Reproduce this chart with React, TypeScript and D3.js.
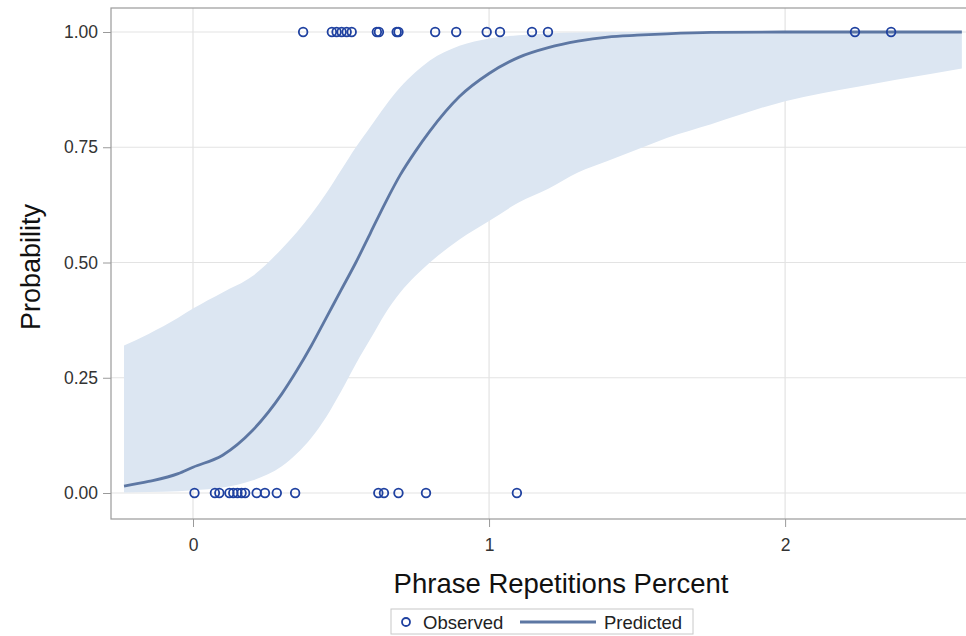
import React, { useEffect, useRef } from 'react';
import * as d3 from 'd3';

// observed responses (x = phrase repetitions percent)
const observedOne = [0.372, 0.469, 0.485, 0.502, 0.519, 0.536, 0.621, 0.628, 0.688, 0.694, 0.818, 0.889, 0.992, 1.037, 1.145, 1.199, 2.236, 2.358];
const observedZero = [0.005, 0.074, 0.089, 0.123, 0.136, 0.150, 0.164, 0.176, 0.215, 0.243, 0.283, 0.345, 0.626, 0.645, 0.694, 0.787, 1.094];

// predicted curve and confidence limits
const gridX = [-0.233, -0.15, -0.05, 0, 0.1, 0.2, 0.3, 0.35, 0.4, 0.45, 0.5, 0.55, 0.6, 0.65, 0.7, 0.75, 0.8, 0.9, 1.0, 1.1, 1.2, 1.3, 1.4, 1.5, 1.6, 1.75, 2.0, 2.25, 2.5, 2.597];
const predicted = [0.015, 0.025, 0.042, 0.056, 0.082, 0.135, 0.215, 0.265, 0.32, 0.38, 0.44, 0.5, 0.565, 0.63, 0.69, 0.74, 0.785, 0.86, 0.91, 0.945, 0.966, 0.98, 0.989, 0.993, 0.996, 0.999, 1, 1, 1, 1];
const upperCL = [0.32, 0.345, 0.38, 0.4, 0.435, 0.47, 0.53, 0.565, 0.605, 0.65, 0.7, 0.75, 0.795, 0.84, 0.88, 0.912, 0.938, 0.97, 0.986, 0.993, 0.997, 0.999, 1, 1, 1, 1, 1, 1, 1, 1];
const lowerCL = [0.001, 0.002, 0.004, 0.006, 0.012, 0.027, 0.058, 0.085, 0.12, 0.165, 0.22, 0.28, 0.335, 0.39, 0.435, 0.47, 0.5, 0.55, 0.59, 0.63, 0.66, 0.695, 0.72, 0.745, 0.77, 0.8, 0.85, 0.882, 0.91, 0.921];

const xTicks = [0, 1, 2];
const yTicks = [0, 0.25, 0.5, 0.75, 1];

const FONT = '"Liberation Sans", Arial, Helvetica, sans-serif';

const App = () => {
  const svgRef = useRef(null);

  useEffect(() => {
    const W = 966;
    const H = 636;
    // plot frame (right side runs off the picture)
    const frame = { left: 111, top: 8, right: 1011, bottom: 519 };

    const svg = d3.select(svgRef.current).attr('width', W).attr('height', H);
    svg.selectAll('*').remove();

    const x = d3.scaleLinear().domain([-0.277, 2.611]).range([111, 966]);
    const y = d3.scaleLinear().domain([0, 1]).range([493, 32]);

    // gridlines
    svg.append('g')
      .selectAll('line')
      .data(yTicks)
      .enter()
      .append('line')
      .attr('x1', frame.left)
      .attr('x2', frame.right)
      .attr('y1', (d) => y(d))
      .attr('y2', (d) => y(d))
      .attr('stroke', '#e3e3e3')
      .attr('stroke-width', 1.2);

    svg.append('g')
      .selectAll('line')
      .data(xTicks)
      .enter()
      .append('line')
      .attr('x1', (d) => x(d))
      .attr('x2', (d) => x(d))
      .attr('y1', frame.top)
      .attr('y2', frame.bottom)
      .attr('stroke', '#e3e3e3')
      .attr('stroke-width', 1.2);

    const rows = gridX.map((gx, i) => ({ x: gx, p: predicted[i], lo: lowerCL[i], hi: upperCL[i] }));

    // confidence band
    const band = d3.area()
      .x((d) => x(d.x))
      .y0((d) => y(d.lo))
      .y1((d) => y(d.hi))
      .curve(d3.curveMonotoneX);
    svg.append('path')
      .datum(rows)
      .attr('d', band)
      .attr('fill', '#dce6f2');

    // predicted line
    const line = d3.line()
      .x((d) => x(d.x))
      .y((d) => y(d.p))
      .curve(d3.curveMonotoneX);
    svg.append('path')
      .datum(rows)
      .attr('d', line)
      .attr('fill', 'none')
      .attr('stroke', '#5d77a3')
      .attr('stroke-width', 2.8);

    // observed points
    const pts = observedOne.map((v) => ({ x: v, y: 1 })).concat(observedZero.map((v) => ({ x: v, y: 0 })));
    svg.append('g')
      .selectAll('circle')
      .data(pts)
      .enter()
      .append('circle')
      .attr('cx', (d) => x(d.x))
      .attr('cy', (d) => y(d.y))
      .attr('r', 4.3)
      .attr('fill', 'none')
      .attr('stroke', '#1f41a0')
      .attr('stroke-width', 1.8);

    // frame
    svg.append('rect')
      .attr('x', frame.left)
      .attr('y', frame.top)
      .attr('width', frame.right - frame.left)
      .attr('height', frame.bottom - frame.top)
      .attr('fill', 'none')
      .attr('stroke', '#9a9a9a')
      .attr('stroke-width', 1.2);

    // y axis
    const yAxis = svg.append('g')
      .attr('transform', `translate(${frame.left},0)`)
      .call(d3.axisLeft(y).tickValues(yTicks).tickFormat(d3.format('.2f')).tickSize(8).tickPadding(5));
    yAxis.select('.domain').remove();
    yAxis.selectAll('line').attr('stroke', '#9a9a9a');
    yAxis.selectAll('text').attr('fill', '#333').style('font-family', FONT).style('font-size', '17.5px');

    // x axis
    const xAxis = svg.append('g')
      .attr('transform', `translate(0,${frame.bottom})`)
      .call(d3.axisBottom(x).tickValues(xTicks).tickFormat(d3.format('d')).tickSize(8).tickPadding(12));
    xAxis.select('.domain').remove();
    xAxis.selectAll('line').attr('stroke', '#9a9a9a');
    xAxis.selectAll('text').attr('fill', '#333').style('font-family', FONT).style('font-size', '17.5px');

    // axis titles
    svg.append('text')
      .attr('transform', 'translate(40,267) rotate(-90)')
      .attr('text-anchor', 'middle')
      .style('font-family', FONT)
      .style('font-size', '27px')
      .attr('fill', '#111')
      .text('Probability');

    svg.append('text')
      .attr('x', 561)
      .attr('y', 593)
      .attr('text-anchor', 'middle')
      .style('font-family', FONT)
      .style('font-size', '27.5px')
      .attr('fill', '#111')
      .text('Phrase Repetitions Percent');

    // legend
    const lg = svg.append('g');
    lg.append('rect')
      .attr('x', 391)
      .attr('y', 609)
      .attr('width', 302)
      .attr('height', 25)
      .attr('fill', 'white')
      .attr('stroke', '#c8c8c8');
    lg.append('circle')
      .attr('cx', 406)
      .attr('cy', 622)
      .attr('r', 4)
      .attr('fill', 'none')
      .attr('stroke', '#1f41a0')
      .attr('stroke-width', 1.8);
    lg.append('text')
      .attr('x', 423)
      .attr('y', 628.5)
      .style('font-family', FONT)
      .style('font-size', '18.5px')
      .attr('fill', '#222')
      .text('Observed');
    lg.append('line')
      .attr('x1', 520)
      .attr('x2', 596)
      .attr('y1', 622)
      .attr('y2', 622)
      .attr('stroke', '#5d77a3')
      .attr('stroke-width', 2.8);
    lg.append('text')
      .attr('x', 604)
      .attr('y', 628.5)
      .style('font-family', FONT)
      .style('font-size', '18.5px')
      .attr('fill', '#222')
      .text('Predicted');
  }, []);

  return (
    <div style={{ position: 'absolute', left: 0, top: 0 }}>
      <svg ref={svgRef} style={{ display: 'block' }} />
    </div>
  );
};

export default App;
